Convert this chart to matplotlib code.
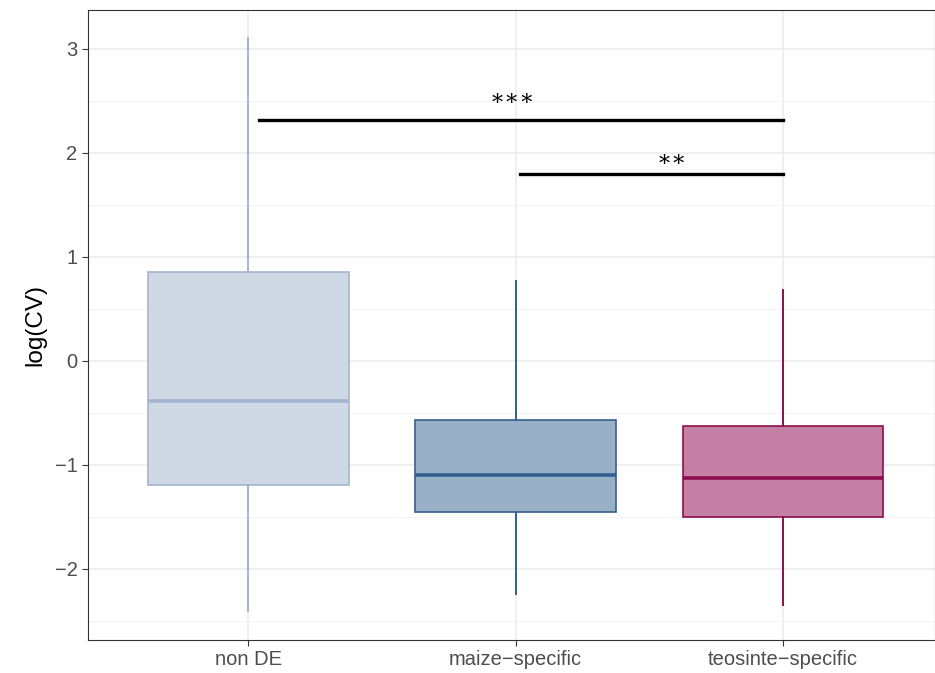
import numpy as np
import matplotlib.pyplot as plt

groups = ["non DE", "maize\u2212specific", "teosinte\u2212specific"]
whislo = [-2.40, -2.24, -2.35]
q1 = [-1.19, -1.45, -1.50]
med = [-0.385, -1.095, -1.125]
q3 = [0.855, -0.565, -0.625]
whishi = [3.105, 0.77, 0.685]
line_cols = ["#a3b5d0", "#33608f", "#8e0e4f"]
fill_cols = ["#cfd9e6", "#99b0c6", "#c480a4"]

# significance brackets: (x start, x end, y, label)
sig_x0 = [1.04, 2.015]
sig_x1 = [3.0, 3.0]
sig_y = [2.32, 1.80]
sig_lab = ["\u2217\u2217\u2217", "\u2217\u2217"]
sig_tx = [1.99, 2.585]
sig_ty = [2.52, 1.935]

plt.rcParams['font.family'] = ['Liberation Sans', 'DejaVu Sans']
fig = plt.figure(figsize=(9.35, 6.73), dpi=100)
ax = fig.add_axes([88/935, 33/673, 847/935, 630/673])

stats = []
for i in range(3):
    stats.append(dict(med=med[i], q1=q1[i], q3=q3[i], whislo=whislo[i], whishi=whishi[i], fliers=[]))
bp = ax.bxp(stats, positions=[1, 2, 3], widths=0.75, patch_artist=True, showcaps=False)
for i in range(3):
    bp["boxes"][i].set_facecolor(fill_cols[i])
    bp["boxes"][i].set_edgecolor(line_cols[i])
    bp["boxes"][i].set_linewidth(1.2)
    bp["medians"][i].set_color(line_cols[i])
    bp["medians"][i].set_linewidth(2.6)
    for w in bp["whiskers"][2*i:2*i+2]:
        w.set_color(line_cols[i])
        w.set_linewidth(1.4)
for b in bp["boxes"] + bp["medians"] + bp["whiskers"]:
    b.set_zorder(3)

for i in range(2):
    ax.plot([sig_x0[i], sig_x1[i]], [sig_y[i], sig_y[i]], color="black", lw=2.4, zorder=4)
    ax.text(sig_tx[i], sig_ty[i], sig_lab[i], ha="center", va="center",
            fontsize=16, family=["DejaVu Serif", "DejaVu Sans"], zorder=4)

ax.set_xlim(0.4, 3.57)
ax.set_ylim(-2.683, 3.375)
ax.set_yticks([-2, -1, 0, 1, 2, 3])
ax.set_yticklabels(["\u22122", "\u22121", "0", "1", "2", "3"])
ax.set_yticks(np.arange(-2.5, 3.5, 0.5), minor=True)
ax.set_xticks([1, 2, 3])
ax.set_xticklabels(groups)
ax.grid(True, which="major", color="#ebebeb", lw=1.1, zorder=0)
ax.grid(True, which="minor", axis="y", color="#f2f2f2", lw=0.6, zorder=0)
ax.set_axisbelow(True)
ax.tick_params(axis="both", which="major", colors="#333333", labelcolor="#4d4d4d",
               labelsize=14.5, length=4, width=0.8)
ax.tick_params(axis="y", which="minor", length=0)
for s in ax.spines.values():
    s.set_color("#333333")
    s.set_linewidth(0.8)
ax.set_ylabel("log(CV)", fontsize=17.5, labelpad=6)
fig.savefig("out.png", dpi=100)
